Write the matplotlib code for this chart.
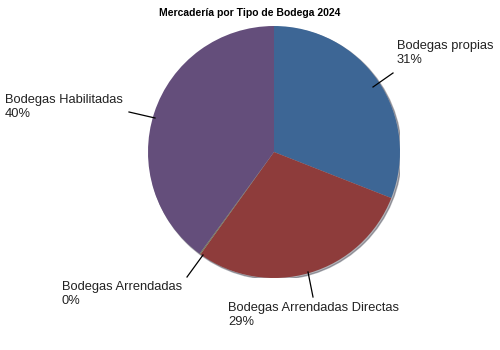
import matplotlib.pyplot as plt
from matplotlib.patches import Circle

plt.rcParams['font.family'] = ['Liberation Sans', 'DejaVu Sans']

title = 'Mercadería por Tipo de Bodega 2024'
categories = ['Bodegas propias', 'Bodegas Arrendadas Directas', 'Bodegas Arrendadas', 'Bodegas Habilitadas']
values = [31, 29, 0.15, 40]
pct_labels = ['31%', '29%', '0%', '40%']
colors = ['#3D6695', '#8E3C3B', '#7A7A5A', '#644E7B']

# label text positions (top-left corner, pixels) and leader lines (pixels)
cx, cy, r = 274, 152, 126
text_pos = [(397, 40), (228, 302), (62, 281), (5, 94)]
line_pts = [((373, 87), (393, 73)), ((308, 272), (313, 297)),
            ((203, 255), (187, 277)), ((155, 118), (129, 112))]

def to_data(p):
    return ((p[0] - cx) / r, (cy - p[1]) / r)

fig = plt.figure(figsize=(5, 3.5), dpi=100)
ax = fig.add_axes([(cx - r) / 500, (350 - cy - r) / 350, 2 * r / 500, 2 * r / 350])

# faint shadow rim
ax.add_patch(Circle((0.012, -0.012), 1.0, color='#202030', alpha=0.35, zorder=0))

ax.pie(values, colors=colors, startangle=90, counterclock=False, radius=1.0,
       wedgeprops=dict(linewidth=0), frame=True)
ax.set_xlim(-1, 1)
ax.set_ylim(-1, 1)
ax.axis('off')

for i, name in enumerate(categories):
    x, y = to_data(text_pos[i])
    ax.text(x, y, name + '\n' + pct_labels[i], fontsize=9.3, va='top', ha='left',
            color='#222222', linespacing=1.25, clip_on=False)
    a, b = line_pts[i]
    xa, ya = to_data(a)
    xb, yb = to_data(b)
    ax.plot([xa, xb], [ya, yb], color='black', lw=0.9, clip_on=False)

fig.text(0.5, 0.978, title, ha='center', va='top', fontsize=7.5, fontweight='bold')

fig.savefig('out.png', dpi=100)
